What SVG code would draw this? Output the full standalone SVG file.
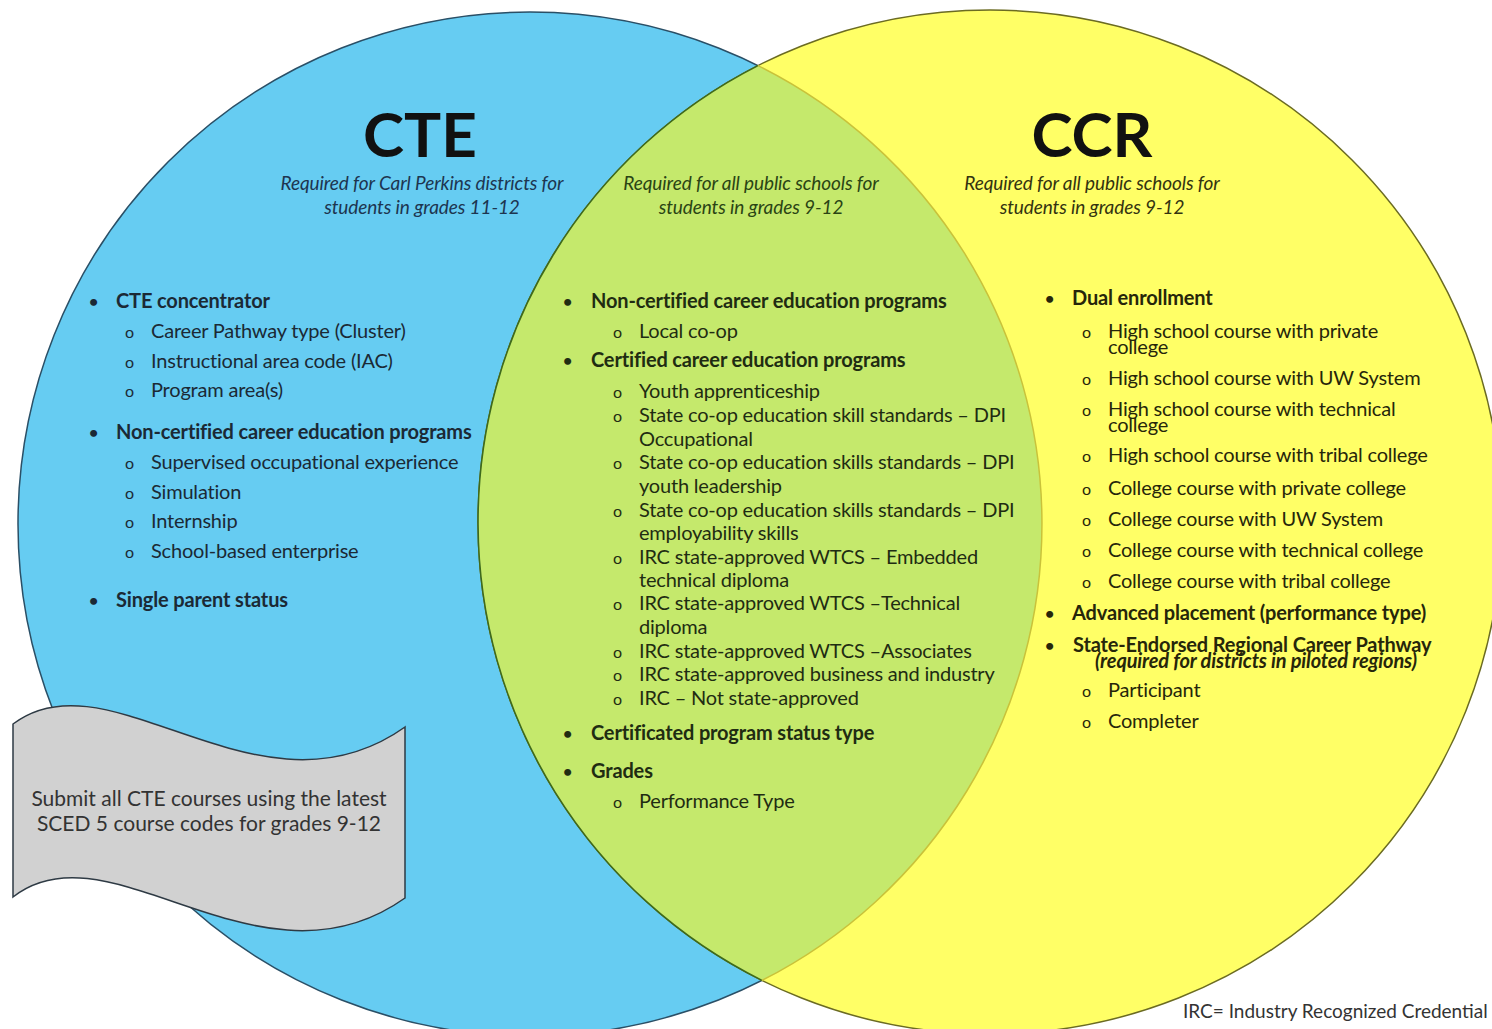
<svg xmlns="http://www.w3.org/2000/svg" width="1492" height="1029" viewBox="0 0 1492 1029">
<style>
text{font-family:Lato,"Noto Sans","Liberation Sans",sans-serif;}
.title{font-size:62px;font-weight:700;fill:#111;text-anchor:middle;}
.sub{font-size:19px;font-style:italic;text-anchor:middle;letter-spacing:-0.1px;}
.b{font-size:20px;font-weight:700;letter-spacing:-0.15px;}
.r{font-size:20px;letter-spacing:-0.2px;}
.blt{font-size:16px;font-weight:700;}
.ob{font-size:16px;}
.L{fill:#1b2935;}
.M{fill:#1f2c12;}
.R{fill:#26260a;}
</style>
<rect width="1492" height="1029" fill="#ffffff"/>
<g id="venn">
  <circle id="cte-circle" cx="530" cy="524" r="512" fill="#66CCF2" stroke="#2a4f66" stroke-width="1.5"/>
  <circle id="ccr-circle" cx="990" cy="522" r="512" fill="#FFFF66" stroke="#6b6b22" stroke-width="1.5"/>
  <path id="overlap" d="M758,65.6 A512,512 0 0 1 762,980.4 A512,512 0 0 1 758,65.6 Z" fill="#C5E96C"/>
  <path d="M762,980.4 A512,512 0 0 1 758,65.6" fill="none" stroke="#3d6a1c" stroke-width="1.5"/>
  <path d="M758,65.6 A512,512 0 0 1 762,980.4" fill="none" stroke="#c9c23a" stroke-width="1.5"/>
</g>
<g id="cte">
  <text class="title" x="420" y="157">CTE</text>
  <text class="sub" x="422" y="190" fill="#1d3550">Required for Carl Perkins districts for</text>
  <text class="sub" x="422" y="214" fill="#1d3550">students in grades 11-12</text>
  <g class="L">
    <text class="blt" x="89" y="307">•</text><text class="b" x="116" y="308">CTE concentrator</text>
    <text class="ob" x="125" y="338">o</text><text class="r" x="151" y="338">Career Pathway type (Cluster)</text>
    <text class="ob" x="125" y="368">o</text><text class="r" x="151" y="368">Instructional area code (IAC)</text>
    <text class="ob" x="125" y="397">o</text><text class="r" x="151" y="397">Program area(s)</text>
    <text class="blt" x="89" y="438">•</text><text class="b" x="116" y="439">Non-certified career education programs</text>
    <text class="ob" x="125" y="469">o</text><text class="r" x="151" y="469">Supervised occupational experience</text>
    <text class="ob" x="125" y="499">o</text><text class="r" x="151" y="499">Simulation</text>
    <text class="ob" x="125" y="528">o</text><text class="r" x="151" y="528">Internship</text>
    <text class="ob" x="125" y="558">o</text><text class="r" x="151" y="558">School-based enterprise</text>
    <text class="blt" x="89" y="606">•</text><text class="b" x="116" y="607">Single parent status</text>
  </g>
</g>
<g id="both">
  <text class="sub" x="751" y="190" fill="#2a4414">Required for all public schools for</text>
  <text class="sub" x="751" y="214" fill="#2a4414">students in grades 9-12</text>
  <g class="M">
    <text class="blt" x="563" y="307">•</text><text class="b" x="591" y="308">Non-certified career education programs</text>
    <text class="ob" x="613" y="338">o</text><text class="r" x="639" y="338">Local co-op</text>
    <text class="blt" x="563" y="366">•</text><text class="b" x="591" y="367">Certified career education programs</text>
    <text class="ob" x="613" y="398">o</text><text class="r" x="639" y="398">Youth apprenticeship</text>
    <text class="ob" x="613" y="422">o</text><text class="r" x="639" y="422">State co-op education skill standards – DPI</text>
    <text class="r" x="639" y="446">Occupational</text>
    <text class="ob" x="613" y="469">o</text><text class="r" x="639" y="469">State co-op education skills standards – DPI</text>
    <text class="r" x="639" y="493">youth leadership</text>
    <text class="ob" x="613" y="517">o</text><text class="r" x="639" y="517">State co-op education skills standards – DPI</text>
    <text class="r" x="639" y="540">employability skills</text>
    <text class="ob" x="613" y="564">o</text><text class="r" x="639" y="564">IRC state-approved WTCS – Embedded</text>
    <text class="r" x="639" y="587">technical diploma</text>
    <text class="ob" x="613" y="610">o</text><text class="r" x="639" y="610">IRC state-approved WTCS –Technical</text>
    <text class="r" x="639" y="634">diploma</text>
    <text class="ob" x="613" y="658">o</text><text class="r" x="639" y="658">IRC state-approved WTCS –Associates</text>
    <text class="ob" x="613" y="681">o</text><text class="r" x="639" y="681">IRC state-approved business and industry</text>
    <text class="ob" x="613" y="705">o</text><text class="r" x="639" y="705">IRC – Not state-approved</text>
    <text class="blt" x="563" y="739">•</text><text class="b" x="591" y="740">Certificated program status type</text>
    <text class="blt" x="563" y="777">•</text><text class="b" x="591" y="778">Grades</text>
    <text class="ob" x="613" y="808">o</text><text class="r" x="639" y="808">Performance Type</text>
  </g>
</g>
<g id="ccr">
  <text class="title" x="1092" y="157">CCR</text>
  <text class="sub" x="1092" y="190" fill="#333310">Required for all public schools for</text>
  <text class="sub" x="1092" y="214" fill="#333310">students in grades 9-12</text>
  <g class="R">
    <text class="blt" x="1045" y="304">•</text><text class="b" x="1072" y="305">Dual enrollment</text>
    <text class="ob" x="1082" y="338">o</text><text class="r" x="1108" y="338">High school course with private</text>
    <text class="r" x="1108" y="354">college</text>
    <text class="ob" x="1082" y="385">o</text><text class="r" x="1108" y="385">High school course with UW System</text>
    <text class="ob" x="1082" y="416">o</text><text class="r" x="1108" y="416">High school course with technical</text>
    <text class="r" x="1108" y="432">college</text>
    <text class="ob" x="1082" y="462">o</text><text class="r" x="1108" y="462">High school course with tribal college</text>
    <text class="ob" x="1082" y="495">o</text><text class="r" x="1108" y="495">College course with private college</text>
    <text class="ob" x="1082" y="526">o</text><text class="r" x="1108" y="526">College course with UW System</text>
    <text class="ob" x="1082" y="557">o</text><text class="r" x="1108" y="557">College course with technical college</text>
    <text class="ob" x="1082" y="588">o</text><text class="r" x="1108" y="588">College course with tribal college</text>
    <text class="blt" x="1045" y="619">•</text><text class="b" x="1072" y="620">Advanced placement (performance type)</text>
    <text class="blt" x="1045" y="651">•</text><text class="b" x="1073" y="652">State-Endorsed Regional Career Pathway</text>
    <text class="b" x="1095" y="668" font-style="italic" font-size="19">(required for districts in piloted regions)</text>
    <text class="ob" x="1082" y="697">o</text><text class="r" x="1108" y="697">Participant</text>
    <text class="ob" x="1082" y="728">o</text><text class="r" x="1108" y="728">Completer</text>
  </g>
</g>
<g id="note">
  <path d="M13,724 C110,650 260,830 405,727 L405,898 C260,1001 110,821 13,897 Z" fill="#D1D1D1" stroke="#2e3a44" stroke-width="1.5"/>
  <text x="209" y="806" font-size="21" fill="#333" text-anchor="middle">Submit all CTE courses using the latest</text>
  <text x="209" y="831" font-size="21" fill="#333" text-anchor="middle">SCED 5 course codes for grades 9-12</text>
</g>
<g id="footnote">
  <text x="1183" y="1018" font-size="19" fill="#333">IRC= Industry Recognized Credential</text>
</g>
</svg>
